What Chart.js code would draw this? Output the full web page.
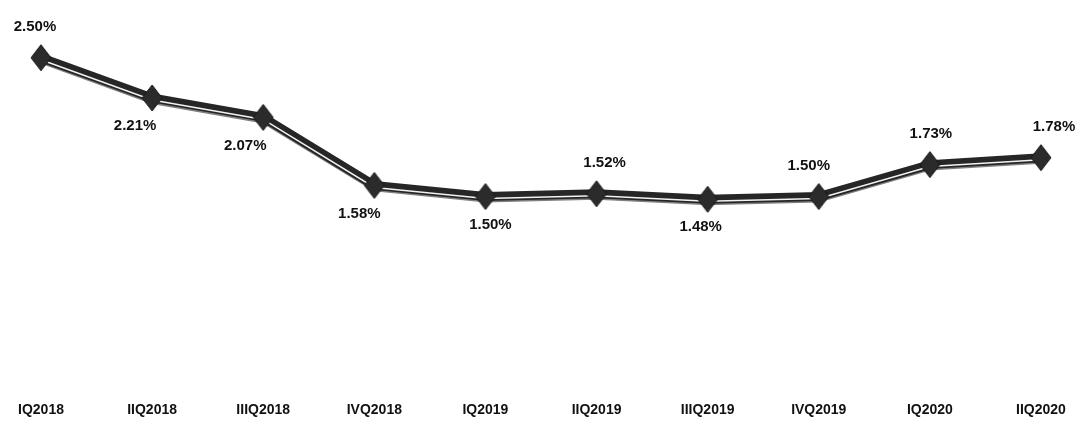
<!DOCTYPE html>
<html>
<head>
<meta charset="utf-8">
<script src="https://cdn.jsdelivr.net/npm/chart.js@4.4.0/dist/chart.umd.min.js"></script>
<style>
  html, body { margin: 0; padding: 0; background: #fff; }
  #wrap { width: 1080px; height: 423px; }
</style>
</head>
<body>
<div id="wrap"><canvas id="grafico"></canvas></div>
<script>
// trimestres e valores (%)
var trimestres = ['IQ2018', 'IIQ2018', 'IIIQ2018', 'IVQ2018', 'IQ2019', 'IIQ2019', 'IIIQ2019', 'IVQ2019', 'IQ2020', 'IIQ2020'];
var valores = [2.50, 2.21, 2.07, 1.58, 1.50, 1.52, 1.48, 1.50, 1.73, 1.78];

// onde fica o rótulo de cada ponto: acima ou abaixo, e deslocamento lateral
var rotuloAcima = [true, false, false, false, false, true, false, true, true, true];
var rotuloDx = [-6, -17, -18, -15, 5, 8, -7, -10, 1, 13];

// marcador: losango um pouco mais alto que largo
function criarLosango() {
    const c = document.createElement('canvas');
    c.width = 22;
    c.height = 28;
    const g = c.getContext('2d');
    g.fillStyle = '#2b2b2b';
    g.strokeStyle = '#1a1a1a';
    g.lineWidth = 1;
    g.beginPath();
    g.moveTo(11, 1);
    g.lineTo(21, 14);
    g.lineTo(11, 27);
    g.lineTo(1, 14);
    g.closePath();
    g.fill();
    g.stroke();
    return c;
}

// desloca a linha de sombra e o brilho um pouco para baixo
const deslocamento = {
    id: 'deslocamento',
    beforeDatasetDraw(chart, args) {
        const dy = chart.data.datasets[args.index].dy || 0;
        chart.ctx.save();
        chart.ctx.translate(0, dy);
    },
    afterDatasetDraw(chart) {
        chart.ctx.restore();
    }
};

// rótulos com o valor
const rotulos = {
    id: 'rotulos',
    afterDatasetsDraw(chart) {
        const ctx = chart.ctx;
        const meta = chart.getDatasetMeta(3);
        ctx.save();
        ctx.font = 'bold 15px "Liberation Sans", Arial, sans-serif';
        ctx.fillStyle = '#111';
        ctx.textAlign = 'center';
        ctx.textBaseline = 'middle';
        meta.data.forEach(function (p, i) {
            const y = rotuloAcima[i] ? p.y - 31 : p.y + 28;
            ctx.fillText(valores[i].toFixed(2) + '%', p.x + rotuloDx[i], y);
        });
        ctx.restore();
    }
};

const ctx = document.getElementById('grafico');
new Chart(ctx, {
    type: 'line',
    data: {
        labels: trimestres,
        datasets: [
            {
                // sombra cinza
                data: valores,
                borderColor: '#808080',
                borderWidth: 4,
                pointRadius: 0,
                dy: 4,
                order: 3
            },
            {
                // linha principal
                data: valores,
                borderColor: '#262626',
                borderWidth: 9,
                pointRadius: 0,
                order: 2
            },
            {
                // brilho branco
                data: valores,
                borderColor: '#f2f2f2',
                borderWidth: 1.5,
                pointRadius: 0,
                dy: 2,
                order: 1
            },
            {
                // marcadores
                data: valores,
                showLine: false,
                pointStyle: criarLosango(),
                pointRadius: 12,
                order: 0
            }
        ]
    },
    options: {
        responsive: true,
        maintainAspectRatio: false,
        animation: false,
        layout: {
            autoPadding: false,
            padding: { left: 0, right: 0, top: 0, bottom: 0 }
        },
        plugins: {
            legend: { display: false },
            tooltip: { enabled: false }
        },
        scales: {
            x: {
                offset: false,
                grid: { display: false, drawTicks: false },
                border: { display: false },
                ticks: {
                    color: '#111',
                    padding: 4,
                    maxRotation: 0,
                    autoSkip: false,
                    font: { family: '"Liberation Sans", Arial, sans-serif', size: 14, weight: 'bold' }
                },
                afterFit(scale) { scale.paddingLeft = 41; scale.paddingRight = 39; }
            },
            y: {
                display: false,
                min: 0.047,
                max: 2.916
            }
        }
    },
    plugins: [deslocamento, rotulos]
});
</script>
</body>
</html>
